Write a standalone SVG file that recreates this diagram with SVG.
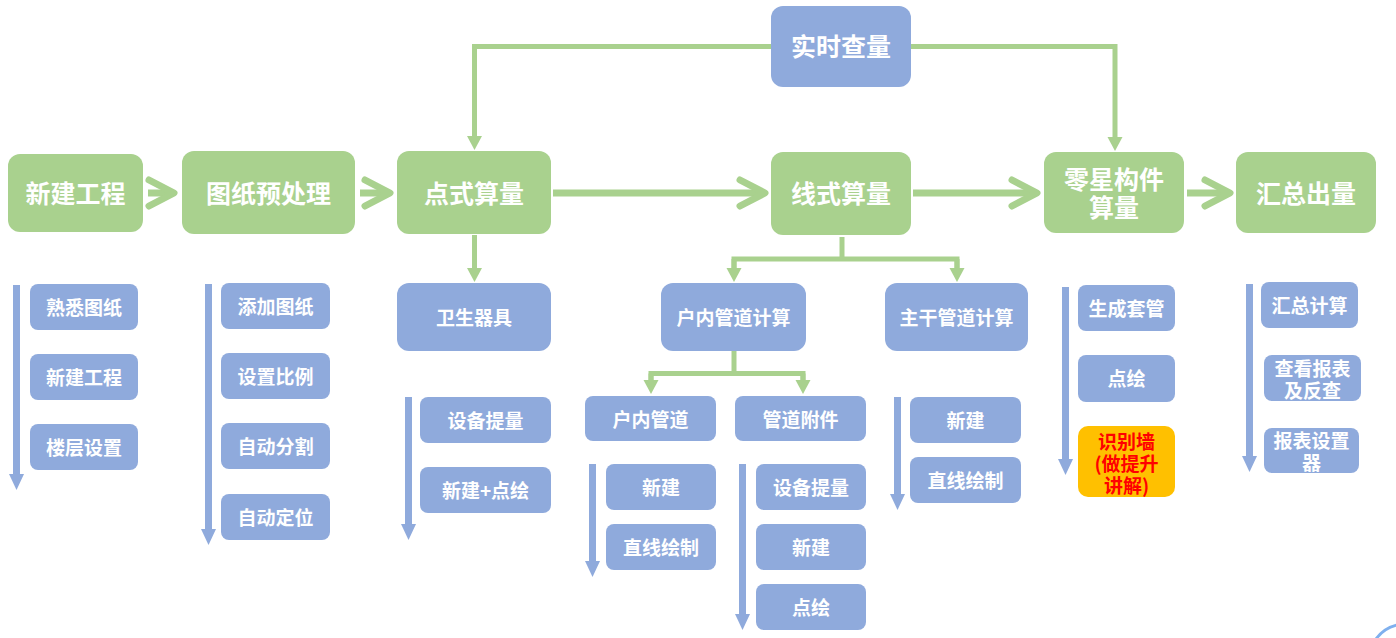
<svg xmlns="http://www.w3.org/2000/svg" width="1396" height="638" viewBox="0 0 1396 638">
<style>
.g{fill:#A9D18E}
.b{fill:#8FAADC}
.o{fill:#FFC000}
.t{font-family:"Noto Sans CJK SC","Noto Sans",sans-serif;font-weight:bold;fill:#fff;text-anchor:middle;dominant-baseline:central}
.big{font-size:25px}
.sm{font-size:19px}
.red{fill:#FF0000}
.thick{fill:none;stroke:#A9D18E;stroke-width:7}
.thin{fill:none;stroke:#A9D18E;stroke-width:5}
.blue{fill:none;stroke:#8FAADC;stroke-width:7}
</style>
<defs>
<marker id="chev" markerUnits="userSpaceOnUse" markerWidth="10" markerHeight="10" refX="0" refY="0" orient="auto" overflow="visible">
<path d="M-25,-13 L0,0 L-25,13" fill="none" stroke="#A9D18E" stroke-width="7" stroke-linecap="round" stroke-linejoin="round"/>
</marker>
<marker id="tri" markerUnits="userSpaceOnUse" markerWidth="10" markerHeight="10" refX="0" refY="0" orient="auto" overflow="visible">
<path d="M0,-7.5 L14,0 L0,7.5 Z" fill="#A9D18E"/>
</marker>
<marker id="btri" markerUnits="userSpaceOnUse" markerWidth="10" markerHeight="10" refX="0" refY="0" orient="auto" overflow="visible">
<path d="M0,-7.5 L16,0 L0,7.5 Z" fill="#8FAADC"/>
</marker>
</defs>
<g id="connectors">
<path class="thick" d="M148,193 L174,193" marker-end="url(#chev)"/>
<path class="thick" d="M360,193 L390,193" marker-end="url(#chev)"/>
<path class="thick" d="M553,193 L765,193" marker-end="url(#chev)"/>
<path class="thick" d="M913,193 L1037,193" marker-end="url(#chev)"/>
<path class="thick" d="M1187,193 L1230,193" marker-end="url(#chev)"/>
<path class="thin" d="M771,46.5 L474.5,46.5 L474.5,136" marker-end="url(#tri)"/>
<path class="thin" d="M911,46.5 L1115,46.5 L1115,137" marker-end="url(#tri)"/>
<path class="thin" d="M474.5,235 L474.5,268" marker-end="url(#tri)"/>
<path class="thin" d="M842,237 L842,259 M734,268 L734,259 L957,259 L957,268"/>
<path class="thin" d="M734,259 L734,268" marker-end="url(#tri)"/>
<path class="thin" d="M957,259 L957,268" marker-end="url(#tri)"/>
<path class="thin" d="M734,351 L734,373.5 M651,380 L651,373.5 L803,373.5 L803,380"/>
<path class="thin" d="M651,373.5 L651,380" marker-end="url(#tri)"/>
<path class="thin" d="M803,373.5 L803,380" marker-end="url(#tri)"/>
<path class="blue" d="M16.5,285 L16.5,474" marker-end="url(#btri)"/>
<path class="blue" d="M208.5,284 L208.5,529" marker-end="url(#btri)"/>
<path class="blue" d="M408.5,397 L408.5,524" marker-end="url(#btri)"/>
<path class="blue" d="M592.5,464 L592.5,561" marker-end="url(#btri)"/>
<path class="blue" d="M742.5,464 L742.5,614" marker-end="url(#btri)"/>
<path class="blue" d="M897.5,397 L897.5,494" marker-end="url(#btri)"/>
<path class="blue" d="M1065.5,287 L1065.5,459" marker-end="url(#btri)"/>
<path class="blue" d="M1249.5,284 L1249.5,456" marker-end="url(#btri)"/>
</g>
<g id="n-sscl"><rect class="b" x="771" y="6" width="140" height="81" rx="12"/><text class="t big" x="841" y="45">实时查量</text></g>
<g id="n-xjgc"><rect class="g" x="8" y="154" width="135" height="78" rx="12"/><text class="t big" x="75.5" y="191.5">新建工程</text></g>
<g id="n-tzycl"><rect class="g" x="182" y="151" width="173" height="83" rx="12"/><text class="t big" x="268.5" y="191.5">图纸预处理</text></g>
<g id="n-dssl"><rect class="g" x="397" y="151" width="154" height="83" rx="12"/><text class="t big" x="474" y="191.5">点式算量</text></g>
<g id="n-xssl"><rect class="g" x="771" y="152" width="140" height="83" rx="12"/><text class="t big" x="841" y="192">线式算量</text></g>
<g id="n-lxgj"><rect class="g" x="1044" y="152" width="140" height="81" rx="12"/><text class="t big" x="1114" y="178">零星构件</text><text class="t big" x="1114" y="206">算量</text></g>
<g id="n-hzcl"><rect class="g" x="1236" y="152" width="140" height="81" rx="12"/><text class="t big" x="1306" y="191.5">汇总出量</text></g>

<g id="n-wsqj"><rect class="b" x="397" y="283" width="154" height="68" rx="12"/><text class="t sm" x="474" y="316.5">卫生器具</text></g>
<g id="n-hngdjs"><rect class="b" x="661" y="283" width="145" height="68" rx="12"/><text class="t sm" x="733.5" y="316.5">户内管道计算</text></g>
<g id="n-zggdjs"><rect class="b" x="885" y="283" width="143" height="68" rx="12"/><text class="t sm" x="956.5" y="316.5">主干管道计算</text></g>
<g id="n-hngd"><rect class="b" x="585" y="396" width="131" height="45" rx="8"/><text class="t sm" x="650.5" y="418">户内管道</text></g>
<g id="n-gdfj"><rect class="b" x="735" y="396" width="131" height="45" rx="8"/><text class="t sm" x="800.5" y="418">管道附件</text></g>

<g id="n-sxtz"><rect class="b" x="30" y="284" width="108" height="46" rx="8"/><text class="t sm" x="84" y="306">熟悉图纸</text></g>
<g id="n-xjgc2"><rect class="b" x="30" y="354" width="108" height="46" rx="8"/><text class="t sm" x="84" y="376">新建工程</text></g>
<g id="n-lcsz"><rect class="b" x="30" y="424" width="108" height="46" rx="8"/><text class="t sm" x="84" y="446">楼层设置</text></g>

<g id="n-tjtz"><rect class="b" x="221" y="283" width="109" height="46" rx="8"/><text class="t sm" x="275.5" y="305">添加图纸</text></g>
<g id="n-szbl"><rect class="b" x="221" y="353" width="109" height="46" rx="8"/><text class="t sm" x="275.5" y="375">设置比例</text></g>
<g id="n-zdfg"><rect class="b" x="221" y="423" width="109" height="46" rx="8"/><text class="t sm" x="275.5" y="445">自动分割</text></g>
<g id="n-zddw"><rect class="b" x="221" y="494" width="109" height="46" rx="8"/><text class="t sm" x="275.5" y="516">自动定位</text></g>

<g id="n-sbtl1"><rect class="b" x="420" y="397" width="131" height="46" rx="8"/><text class="t sm" x="485.5" y="419">设备提量</text></g>
<g id="n-xjdh"><rect class="b" x="420" y="467" width="131" height="46" rx="8"/><text class="t sm" x="485.5" y="489">新建+点绘</text></g>

<g id="n-xj1"><rect class="b" x="606" y="464" width="110" height="46" rx="8"/><text class="t sm" x="661" y="486">新建</text></g>
<g id="n-zxhz1"><rect class="b" x="606" y="524" width="110" height="46" rx="8"/><text class="t sm" x="661" y="546">直线绘制</text></g>

<g id="n-sbtl2"><rect class="b" x="756" y="464" width="110" height="46" rx="8"/><text class="t sm" x="811" y="486">设备提量</text></g>
<g id="n-xj2"><rect class="b" x="756" y="524" width="110" height="46" rx="8"/><text class="t sm" x="811" y="546">新建</text></g>
<g id="n-dh1"><rect class="b" x="756" y="584" width="110" height="46" rx="8"/><text class="t sm" x="811" y="606">点绘</text></g>

<g id="n-xj3"><rect class="b" x="910" y="397" width="111" height="46" rx="8"/><text class="t sm" x="965.5" y="419">新建</text></g>
<g id="n-zxhz2"><rect class="b" x="910" y="457" width="111" height="46" rx="8"/><text class="t sm" x="965.5" y="479">直线绘制</text></g>

<g id="n-sctg"><rect class="b" x="1078" y="285" width="97" height="46" rx="8"/><text class="t sm" x="1126.5" y="307">生成套管</text></g>
<g id="n-dh2"><rect class="b" x="1078" y="355" width="97" height="47" rx="8"/><text class="t sm" x="1126.5" y="377.5">点绘</text></g>
<g id="n-sbq"><rect class="o" x="1078" y="426" width="97" height="71" rx="10"/><text class="t sm red" x="1126.5" y="440">识别墙</text><text class="t sm red" x="1126.5" y="462">(做提升</text><text class="t sm red" x="1126.5" y="484">讲解)</text></g>

<g id="n-hzjs"><rect class="b" x="1261" y="282" width="97" height="46" rx="8"/><text class="t sm" x="1309.5" y="304">汇总计算</text></g>
<g id="n-ckbb"><rect class="b" x="1264" y="355" width="97" height="46" rx="8"/><text class="t sm" x="1312.5" y="367">查看报表</text><text class="t sm" x="1312.5" y="389">及反查</text></g>
<g id="n-bbszq"><rect class="b" x="1264" y="428" width="95" height="45" rx="8"/><text class="t sm" x="1311.5" y="439">报表设置</text><text class="t sm" x="1311.5" y="461">器</text></g>

<path d="M1376,639 Q1384,628 1397,625" fill="none" stroke="#7FB0EE" stroke-width="3"/>
</svg>
